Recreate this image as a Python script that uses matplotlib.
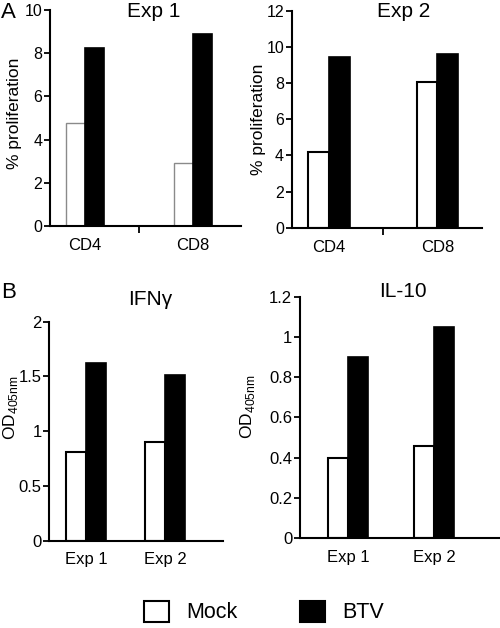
import matplotlib
matplotlib.use("Agg")
import matplotlib.pyplot as plt
from matplotlib.patches import Patch

plt.rcParams['font.family'] = ['Liberation Sans', 'DejaVu Sans']
plt.rcParams['mathtext.fontset'] = 'custom'
plt.rcParams['mathtext.rm'] = 'Liberation Sans'

# Data
cells = ["CD4", "CD8"]
exps = ["Exp 1", "Exp 2"]
exp1_mock = [4.78, 2.9]
exp1_btv = [8.25, 8.87]
exp2_mock = [4.2, 8.05]
exp2_btv = [9.45, 9.62]
ifng_mock = [0.81, 0.90]
ifng_btv = [1.62, 1.51]
il10_mock = [0.40, 0.46]
il10_btv = [0.90, 1.05]

W, H = 500, 628
fig = plt.figure(figsize=(W / 100, H / 100), dpi=100)


def add_ax(left, right, top, bottom):
    return fig.add_axes([left / W, 1 - bottom / H, (right - left) / W, (bottom - top) / H])


def px(x, y):
    return x / W, 1 - y / H


def draw(ax, cats, mock, btv, w, xlim, ylim, yticks, mock_edge, mock_lw,
         mid_tick, ylabel, ylab_x, ylab_y, cat_pad, tick_fs):
    x = list(range(len(cats)))
    ax.bar([i - w / 2 for i in x], mock, width=w, color='white', edgecolor=mock_edge,
           linewidth=mock_lw, zorder=2)
    ax.bar([i + w / 2 for i in x], btv, width=w, color='black', edgecolor='black',
           linewidth=1.2, zorder=2)
    ax.set_xlim(*xlim)
    ax.set_ylim(*ylim)
    ax.set_yticks(yticks)
    ax.set_yticklabels([('%g' % t) for t in yticks])
    ax.set_xticks(x)
    ax.set_xticklabels(cats, fontsize=12)
    ax.tick_params(axis='x', length=0, pad=cat_pad)
    if mid_tick:
        ax.set_xticks([0.5], minor=True)
        ax.tick_params(axis='x', which='minor', length=5, width=1.3, direction='out')
    for s in ['top', 'right']:
        ax.spines[s].set_visible(False)
    for s in ['left', 'bottom']:
        ax.spines[s].set_linewidth(1.5)
    ax.tick_params(axis='y', direction='out', length=4, width=1.3, labelsize=tick_fs, pad=1.5)
    ax.set_ylabel(ylabel, fontsize=12.5)
    ax.yaxis.set_label_coords(ylab_x, ylab_y)


# Panel A, Exp 1
ax1 = add_ax(50, 241, 10, 226)
draw(ax1, cells, exp1_mock, exp1_btv, 0.18, (-0.324, 1.444), (0, 10), [0, 2, 4, 6, 8, 10],
     '#8a8a8a', 1.0, True, '% proliferation', (22 - 50) / 191, 1 - (113 - 10) / 216, 9, 11.5)
fig.text(*px(154, 17), 'Exp 1', fontsize=15, ha='center', va='baseline')

# Panel A, Exp 2
ax2 = add_ax(291.7, 481.7, 11, 227.7)
draw(ax2, cells, exp2_mock, exp2_btv, 0.19, (-0.345, 1.41), (0, 12), [0, 2, 4, 6, 8, 10, 12],
     'black', 1.5, True, '% proliferation', (266 - 291.7) / 190, 1 - (119 - 11) / 216.7, 9, 11.5)
fig.text(*px(404, 17), 'Exp 2', fontsize=15, ha='center', va='baseline')

# Panel B, IFNγ
ax3 = add_ax(49.3, 222.7, 321.7, 540.7)
draw(ax3, exps, ifng_mock, ifng_btv, 0.25, (-0.465, 1.73), (0, 2), [0, 0.5, 1, 1.5, 2],
     'black', 1.5, False, r'OD$_{\mathrm{405nm}}$', (20 - 49.3) / 173.4,
     1 - (408 - 321.7) / 219, 8, 12)
fig.text(*px(150, 305), 'IFNγ', fontsize=15, ha='center', va='baseline')

# Panel B, IL-10
ax4 = add_ax(300, 499, 296.7, 538.3)
draw(ax4, exps, il10_mock, il10_btv, 0.23, (-0.558, 1.756), (0, 1.2),
     [0, 0.2, 0.4, 0.6, 0.8, 1, 1.2],
     'black', 1.5, False, r'OD$_{\mathrm{405nm}}$', (257 - 300) / 199,
     1 - (407 - 296.7) / 241.6, 8.5, 12)
fig.text(*px(403, 297), 'IL-10', fontsize=15, ha='center', va='baseline')

# Panel letters
fig.text(*px(1, 18), 'A', fontsize=16, ha='left', va='baseline')
fig.text(*px(1, 298), 'B', fontsize=16, ha='left', va='baseline')

# Legend
handles = [Patch(facecolor='white', edgecolor='black', linewidth=1.5, label='Mock'),
           Patch(facecolor='black', edgecolor='black', linewidth=1.5, label='BTV')]
fig.legend(handles=handles, loc='center', bbox_to_anchor=(264 / W, 1 - 612 / H), ncol=2,
           frameon=False, fontsize=15.5, handlelength=1.15, handleheight=1.15,
           handletextpad=0.8, columnspacing=2.9)

fig.savefig('out.png', dpi=100)
